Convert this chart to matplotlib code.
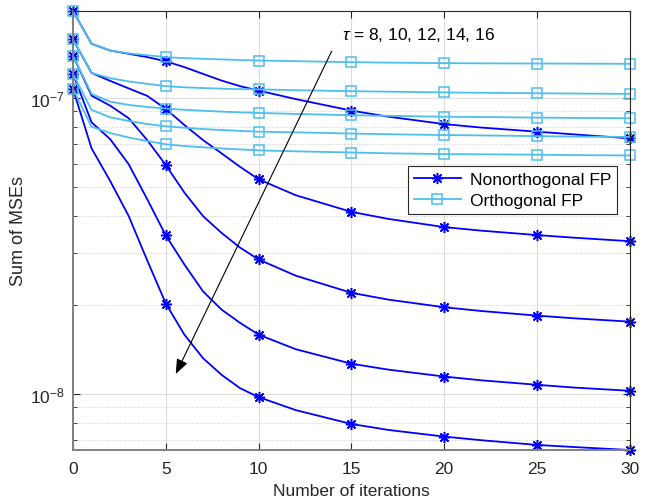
import matplotlib
matplotlib.use("Agg")
import matplotlib.pyplot as plt
import numpy as np

plt.rcParams['font.family'] = ['Liberation Sans', 'DejaVu Sans']
plt.rcParams['mathtext.fontset'] = 'custom'
plt.rcParams['mathtext.rm'] = 'Liberation Sans'
plt.rcParams['mathtext.it'] = 'Liberation Sans:italic'

iters = [0, 1, 2, 3, 4, 5, 6, 7, 8, 9, 10, 12, 15, 17, 20, 22, 25, 27, 30]
taus = [8, 10, 12, 14, 16]

# sum of MSEs, in units of 1e-7
nonorth_t8 = [1.967, 1.524, 1.446, 1.410, 1.374, 1.330, 1.271, 1.206, 1.145, 1.096, 1.059, 0.991, 0.906, 0.864, 0.816, 0.794, 0.769, 0.753, 0.730]
nonorth_t10 = [1.576, 1.215, 1.142, 1.077, 1.016, 0.918, 0.810, 0.721, 0.650, 0.585, 0.531, 0.469, 0.412, 0.390, 0.366, 0.356, 0.344, 0.337, 0.328]
nonorth_t12 = [1.391, 1.018, 0.942, 0.854, 0.720, 0.593, 0.479, 0.399, 0.350, 0.312, 0.2845, 0.2508, 0.2195, 0.2081, 0.1962, 0.1905, 0.1838, 0.1800, 0.1754]
nonorth_t14 = [1.206, 0.827, 0.726, 0.597, 0.4545, 0.343, 0.2737, 0.2222, 0.1927, 0.1737, 0.1585, 0.1415, 0.1264, 0.1207, 0.1144, 0.1111, 0.1073, 0.1050, 0.1024]
nonorth_t16 = [1.073, 0.6755, 0.5244, 0.399, 0.2824, 0.2019, 0.1585, 0.1321, 0.1160, 0.1045, 0.0975, 0.0881, 0.0791, 0.0755, 0.0717, 0.0697, 0.0672, 0.0661, 0.0646]

orth_t8 = [1.967, 1.524, 1.446, 1.415, 1.394, 1.374, 1.363, 1.356, 1.350, 1.343, 1.338, 1.331, 1.321, 1.316, 1.311, 1.309, 1.307, 1.306, 1.304]
orth_t10 = [1.576, 1.215, 1.166, 1.137, 1.116, 1.096, 1.086, 1.080, 1.075, 1.071, 1.069, 1.062, 1.054, 1.050, 1.044, 1.041, 1.037, 1.035, 1.032]
orth_t12 = [1.391, 1.032, 0.9715, 0.947, 0.932, 0.921, 0.912, 0.905, 0.899, 0.894, 0.890, 0.883, 0.874, 0.870, 0.864, 0.862, 0.858, 0.856, 0.854]
orth_t14 = [1.206, 0.911, 0.860, 0.836, 0.816, 0.802, 0.793, 0.785, 0.779, 0.774, 0.769, 0.765, 0.758, 0.754, 0.749, 0.747, 0.743, 0.740, 0.738]
orth_t16 = [1.073, 0.799, 0.761, 0.735, 0.715, 0.697, 0.688, 0.681, 0.675, 0.670, 0.665, 0.660, 0.654, 0.650, 0.646, 0.645, 0.643, 0.641, 0.639]

nonorth = [nonorth_t8, nonorth_t10, nonorth_t12, nonorth_t14, nonorth_t16]
orth = [orth_t8, orth_t10, orth_t12, orth_t14, orth_t16]

x = np.array(iters)
marks = [i for i, v in enumerate(iters) if v % 5 == 0]
fs = 12.5

fig = plt.figure(figsize=(6.46, 5.02), dpi=100)
ax = fig.add_axes([0.113, 0.1016, 0.862, 0.8745])

for i, s in enumerate(nonorth):
    ax.semilogy(x, np.array(s) * 1e-7, color='#0000ff', lw=1.3,
                marker=(8, 2, 0), ms=8, mew=1.1, markevery=marks, clip_on=False,
                label='Nonorthogonal FP' if i == 0 else None)
for i, s in enumerate(orth):
    ax.semilogy(x, np.array(s) * 1e-7, color='#4dbeee', lw=1.3, marker='s',
                ms=7, mfc='none', mew=1.1, markevery=marks, clip_on=False,
                label='Orthogonal FP' if i == 0 else None)

allv = np.concatenate([np.array(s) for s in nonorth + orth]) * 1e-7
ax.set_xlim(0, 30)
ax.set_ylim(allv.min(), allv.max())
ax.set_xticks([0, 5, 10, 15, 20, 25, 30])

ax.grid(True, which='major', color='#dcdcdc', lw=0.8)
ax.grid(True, which='minor', axis='y', color='#cccccc', lw=0.7, ls=':')
ax.set_axisbelow(True)
ax.tick_params(which='both', direction='in', top=True, right=True,
               labelsize=fs, colors='#262626')
ax.tick_params(which='major', length=5)
ax.tick_params(which='minor', length=3)
ax.tick_params(axis='x', pad=8)
ax.tick_params(axis='y', pad=6)
ax.yaxis.set_minor_formatter(plt.NullFormatter())
for side in ['left', 'bottom']:
    ax.spines[side].set_color('#808080')
    ax.spines[side].set_linewidth(1.4)
for side in ['top', 'right']:
    ax.spines[side].set_color('#262626')
    ax.spines[side].set_linewidth(0.8)

ax.set_xlabel('Number of iterations', fontsize=fs, color='#262626', labelpad=5)
ax.set_ylabel('Sum of MSEs', fontsize=13, color='#262626', labelpad=2)

ax.annotate('', xy=(5.47, 1.144e-8), xytext=(14.0, 1.466e-7),
            arrowprops=dict(arrowstyle='-|>,head_length=0.9,head_width=0.35',
                            color='black', lw=0.8))
ax.text(14.5, 1.648e-7, r'$\tau$ = ' + ', '.join(str(t) for t in taus),
        fontsize=fs, va='center', ha='left')

leg = ax.legend(loc='upper right', bbox_to_anchor=(0.977, 0.647),
                borderaxespad=0, fancybox=False, edgecolor='#262626',
                framealpha=1, fontsize=fs, handlelength=2.7,
                borderpad=0.35, labelspacing=0.35, handletextpad=0.5)
leg.get_frame().set_linewidth(0.8)

fig.savefig('out.png', dpi=100)
